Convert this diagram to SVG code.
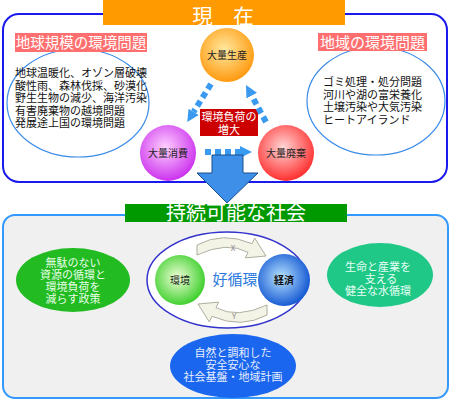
<svg xmlns="http://www.w3.org/2000/svg" width="450" height="400" viewBox="0 0 450 400">
<defs>
<style>
text{font-family:"Noto Sans CJK JP","Noto Sans",sans-serif;}
.lst{font-size:11px;fill:#111;}
.cir{font-size:10px;fill:#222;text-anchor:middle;}
.wh{fill:#fff;text-anchor:middle;}
.dash{fill:none;stroke:#3a9af0;stroke-width:6;stroke-dasharray:6 4;}
.curve{fill:#f3f3e6;stroke:#9a9a8a;stroke-width:0.8;}
</style>
<radialGradient id="gOr" cx="0.45" cy="0.4" r="0.6"><stop offset="0" stop-color="#ffe9a0"/><stop offset="1" stop-color="#ff9a10"/></radialGradient>
<radialGradient id="gPu" cx="0.45" cy="0.4" r="0.6"><stop offset="0" stop-color="#ffd0ff"/><stop offset="1" stop-color="#cc33ee"/></radialGradient>
<radialGradient id="gRd" cx="0.45" cy="0.4" r="0.6"><stop offset="0" stop-color="#ffd6d6"/><stop offset="1" stop-color="#ff3030"/></radialGradient>
<radialGradient id="gGr" cx="0.45" cy="0.45" r="0.6"><stop offset="0" stop-color="#f0ffd8"/><stop offset="1" stop-color="#33cc22"/></radialGradient>
<radialGradient id="gBl" cx="0.45" cy="0.45" r="0.6"><stop offset="0" stop-color="#b8e4ff"/><stop offset="1" stop-color="#0a4fd0"/></radialGradient>
<marker id="ah" viewBox="0 0 10 10" refX="0" refY="5" markerUnits="userSpaceOnUse" markerWidth="12" markerHeight="14" orient="auto"><path d="M0,0 L10,5 L0,10 z" fill="#3a9af0"/></marker>
</defs>
<rect width="450" height="400" fill="#fff"/>

<g id="frame-present">
<rect x="3" y="14" width="444" height="168" rx="16" fill="#fff" stroke="#1a1aee" stroke-width="2"/>
<rect x="103" y="0" width="242" height="25" fill="#ff9a00"/>
<text x="223" y="24" class="wh" font-size="20.5">現　在</text>
</g>

<g id="global-issues">
<ellipse cx="78" cy="103" rx="71" ry="54" fill="none" stroke="#3a8ae8" stroke-width="1.2"/>
<rect x="15" y="33" width="132" height="19" fill="#ff6f6f"/>
<text x="81" y="48" class="wh" font-size="14.5">地球規模の環境問題</text>
<text x="15" y="77" class="lst">地球温暖化、オゾン層破壊</text>
<text x="15" y="89.5" class="lst">酸性雨、森林伐採、砂漠化</text>
<text x="15" y="102" class="lst">野生生物の減少、海洋汚染</text>
<text x="15" y="114.5" class="lst">有害廃棄物の越境問題</text>
<text x="15" y="127" class="lst">発展途上国の環境問題</text>
</g>

<g id="local-issues">
<ellipse cx="376" cy="101" rx="69" ry="54" fill="none" stroke="#3a8ae8" stroke-width="1.2"/>
<rect x="318" y="33" width="109" height="18" fill="#ff6f6f"/>
<text x="372.5" y="47.5" class="wh" font-size="15">地域の環境問題</text>
<text x="323" y="86" class="lst">ゴミ処理・処分問題</text>
<text x="323" y="98.5" class="lst">河川や湖の富栄養化</text>
<text x="323" y="111" class="lst">土壌汚染や大気汚染</text>
<text x="323" y="123.5" class="lst">ヒートアイランド</text>
</g>

<g id="mass-production">
<circle cx="227" cy="55" r="27" fill="url(#gOr)"/>
<text x="227" y="59" class="cir">大量生産</text>
</g>
<g id="mass-consumption">
<circle cx="168" cy="153" r="28" fill="url(#gPu)"/>
<text x="168" y="157" class="cir">大量消費</text>
</g>
<g id="mass-disposal">
<circle cx="286" cy="153" r="28" fill="url(#gRd)"/>
<text x="286" y="157" class="cir">大量廃棄</text>
</g>
<g id="load-increase">
<rect x="200" y="109" width="58" height="27" fill="#cc0000"/>
<text x="229" y="121" class="wh" font-size="11">環境負荷の</text>
<text x="229" y="134" class="wh" font-size="11">増大</text>
</g>

<g id="connectors">
<line x1="211" y1="84" x2="193.6" y2="111.9" class="dash" marker-end="url(#ah)"/>
<line x1="205" y1="152" x2="240" y2="152" class="dash" marker-end="url(#ah)"/>
<line x1="266" y1="122" x2="251.7" y2="95.6" class="dash" marker-end="url(#ah)"/>
<polygon points="212,155 243,155 243,173 258,173 227,203 197,173 212,173" fill="#3d8fe8" stroke="#1a4f8f" stroke-width="1"/>
</g>

<g id="frame-sustainable">
<rect x="3" y="215" width="445" height="183" rx="12" fill="#f0f0f0" stroke="#3399ff" stroke-width="2"/>
<rect x="125" y="204" width="222" height="18" fill="#009900"/>
<text x="236" y="220" class="wh" font-size="20">持続可能な社会</text>
</g>

<g id="policy">
<ellipse cx="73" cy="280" rx="57" ry="32" fill="#22bb22"/>
<text x="73" y="266.5" class="wh" font-size="11" style="fill:#e6ffe6">無駄のない</text>
<text x="73" y="278.5" class="wh" font-size="11" style="fill:#e6ffe6">資源の循環と</text>
<text x="73" y="290.5" class="wh" font-size="11" style="fill:#e6ffe6">環境負荷を</text>
<text x="73" y="302.5" class="wh" font-size="11" style="fill:#e6ffe6">減らす政策</text>
</g>

<g id="water-cycle">
<ellipse cx="380" cy="275" rx="53" ry="32" fill="#20c888"/>
<text x="378" y="271" class="wh" font-size="11" style="fill:#e6fff4">生命と産業を</text>
<text x="381" y="283" class="wh" font-size="11" style="fill:#e6fff4">支える</text>
<text x="378" y="295" class="wh" font-size="11" style="fill:#e6fff4">健全な水循環</text>
</g>

<g id="infrastructure">
<ellipse cx="233" cy="366" rx="63" ry="32" fill="#1a66ee"/>
<text x="233" y="357" class="wh" font-size="11" style="fill:#e6eeff">自然と調和した</text>
<text x="233" y="369" class="wh" font-size="11" style="fill:#e6eeff">安全安心な</text>
<text x="233" y="381" class="wh" font-size="11" style="fill:#e6eeff">社会基盤・地域計画</text>
</g>

<g id="virtuous-cycle">
<ellipse cx="227" cy="280" rx="80" ry="48" fill="#fff" stroke="#3333cc" stroke-width="1.5"/>
<path class="curve" d="M197,245 Q223,231 252,243.7 L254.7,238.1 L266,256 L245.3,257.9 L248,252.3 Q227,241 197,255 Z"/>
<path class="curve" transform="rotate(180 232 280)" d="M197,245 Q223,231 252,243.7 L254.7,238.1 L266,256 L245.3,257.9 L248,252.3 Q227,241 197,255 Z"/>
<text x="233" y="251" font-size="8" fill="#888" text-anchor="middle">X</text>
<text x="234" y="319" font-size="8" fill="#888" text-anchor="middle">Y</text>
<text x="235" y="285" font-size="15" fill="#2a78dd" text-anchor="middle">好循環</text>
</g>
<g id="environment">
<circle cx="180" cy="280" r="25" fill="url(#gGr)"/>
<text x="180" y="284" class="cir">環境</text>
</g>
<g id="economy">
<circle cx="284" cy="280" r="26" fill="url(#gBl)"/>
<text x="284" y="284" class="cir" font-weight="bold" style="fill:#111">経済</text>
</g>
</svg>
